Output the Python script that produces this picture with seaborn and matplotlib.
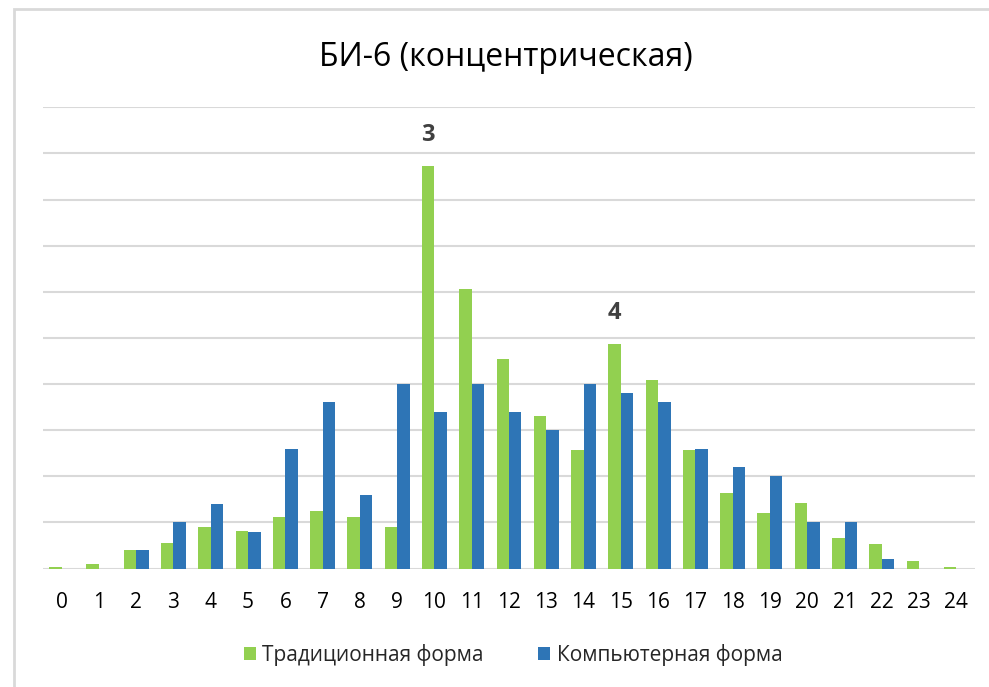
import matplotlib
matplotlib.use("Agg")
import matplotlib.pyplot as plt
import matplotlib.patches as patches
import seaborn as sns
import pandas as pd

# 1. Datos ---------------------------------------------
baly = [str(i) for i in range(25)]
tradicionnaya = [0.03, 0.10, 0.41, 0.56, 0.89, 0.81, 1.12, 1.25, 1.12, 0.90,
                 8.73, 6.05, 4.54, 3.30, 2.57, 4.87, 4.08, 2.57, 1.64, 1.20,
                 1.41, 0.66, 0.53, 0.16, 0.03]
kompyuternaya = [0, 0, 0.4, 1.0, 1.4, 0.8, 2.6, 3.6, 1.6, 4.0,
                 3.4, 4.0, 3.4, 3.0, 4.0, 3.8, 3.6, 2.6, 2.2, 2.0,
                 1.0, 1.0, 0.2, 0, 0]
seriya = ['Традиционная форма', 'Компьютерная форма']
metki = {'10': '3', '15': '4'}

df = pd.DataFrame({'bal': baly, seriya[0]: tradicionnaya, seriya[1]: kompyuternaya})
df_long = df.melt(id_vars='bal', var_name='forma', value_name='znach')

sns.set_theme(style="white")
plt.rcParams['font.family'] = ['Open Sans', 'DejaVu Sans']
colores = {seriya[0]: '#92D050', seriya[1]: '#2E75B6'}

# 2. Grafico -------------------------------------------
fig = plt.figure(figsize=(9.89, 6.87), dpi=100)
ax = fig.add_axes([43/989, 1 - 568.5/687, (975 - 43)/989, (568.5 - 107.3)/687])

sns.barplot(data=df_long, x='bal', y='znach', hue='forma', order=baly,
            hue_order=seriya, palette=colores, width=0.67, saturation=1,
            linewidth=0, ax=ax)

ax.set_ylim(0, 10)
ax.set_yticks(range(0, 11))
ax.set_yticklabels([])
ax.grid(axis='y', color='#D9D9D9', linewidth=1.5)
ax.set_axisbelow(True)
for s in ax.spines.values():
    s.set_visible(False)
ax.tick_params(axis='x', length=0, pad=17, labelsize=15, labelcolor='black')
ax.tick_params(axis='y', length=0)
ax.set_xlabel('')
ax.set_ylabel('')

# etiquetas 3 y 4 sobre las barras verdes
for k, v in metki.items():
    i = baly.index(k)
    ax.text(i - 0.1675, tradicionnaya[i] + 0.66, v, ha='center', va='center',
            fontsize=17, fontweight='bold', color='#404040')

fig.text(0.511, 1 - 57/687, 'БИ-6 (концентрическая)', ha='center', va='center',
         fontsize=23, color='black')

ax.legend(title='', loc='center', bbox_to_anchor=(513/989, 1 - 655/687),
          bbox_transform=fig.transFigure, ncol=2, frameon=False, fontsize=15,
          handlelength=0.6, handleheight=0.6, handletextpad=0.3, columnspacing=2.6)

# marco del grafico
fig.patches.append(patches.Rectangle((14/989, -0.1), 1.2, 1.1 - 9/687, fill=False,
                                     edgecolor='#D9D9D9', linewidth=2,
                                     transform=fig.transFigure, figure=fig))

plt.savefig('out.png', dpi=100)
plt.close()
